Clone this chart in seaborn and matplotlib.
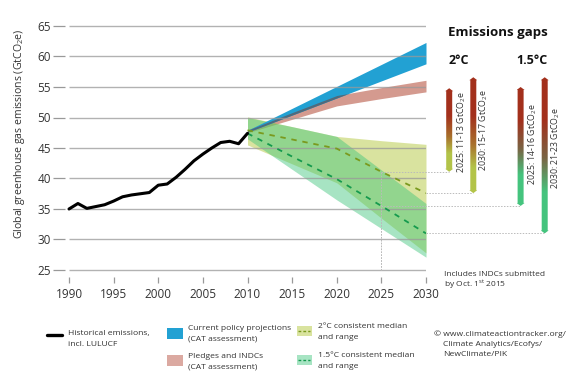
import numpy as np
import pandas as pd
import matplotlib
matplotlib.use("Agg")
import matplotlib.pyplot as plt
import seaborn as sns
from matplotlib.patches import Polygon, Rectangle
from matplotlib.lines import Line2D
from matplotlib.colors import to_rgb

# ---------------- data ----------------
hist_years = list(range(1990, 2011))
hist_values = [35.0, 35.9, 35.1, 35.4, 35.7, 36.3, 37.0, 37.3, 37.5, 37.7, 38.9,
               39.1, 40.2, 41.5, 42.9, 44.0, 45.0, 45.9, 46.1, 45.7, 47.4]

proj_years = [2010, 2015, 2020, 2025, 2030]
cpp_low = [47.6, 50.4, 53.2, 56.0, 58.8]
cpp_high = [47.9, 51.5, 55.1, 58.7, 62.3]
pledge_low = [47.5, 49.7, 51.9, 53.1, 54.2]
pledge_high = [48.0, 50.8, 53.6, 54.9, 56.1]
two_low = [45.5, 42.4, 39.3, 33.5, 27.8]
two_high = [50.1, 48.5, 46.9, 46.2, 45.6]
two_median = [47.9, 46.4, 44.9, 41.1, 37.6]
one5_low = [46.5, 41.5, 36.5, 31.8, 27.1]
one5_high = [50.0, 48.5, 46.9, 41.4, 35.9]
one5_median = [47.4, 43.6, 39.9, 35.5, 31.0]

gap_years = [2025, 2030, 2025, 2030]
gap_bottom = [41.1, 37.6, 35.5, 31.0]
gap_top = [54.8, 56.6, 55.0, 56.6]
gap_xpos = [2032.6, 2035.3, 2040.6, 2043.3]
gap_labels = ["2025: 11-13 GtCO$_{\\mathrm{2}}$e", "2030: 15-17 GtCO$_{\\mathrm{2}}$e",
              "2025: 14-16 GtCO$_{\\mathrm{2}}$e", "2030: 21-23 GtCO$_{\\mathrm{2}}$e"]
gap_group = ["2", "2", "1.5", "1.5"]

x_ticks = [1990, 1995, 2000, 2005, 2010, 2015, 2020, 2025, 2030]
y_ticks = [25, 30, 35, 40, 45, 50, 55, 60, 65]

# ---------------- style ----------------
sns.set_style("white")
FONT = ["Open Sans", "DejaVu Sans"]
plt.rcParams["font.family"] = FONT
plt.rcParams["mathtext.fontset"] = "custom"
plt.rcParams["mathtext.rm"] = "Open Sans"
plt.rcParams["mathtext.it"] = "Open Sans:italic"
plt.rcParams["mathtext.bf"] = "Open Sans:bold"

BLUE = "#22a1d3"
PINK = "#d49a8f"
YEL = "#b5c940"
GRN = "#3cc47a"
TXT = "#333333"

W, H = 588, 391
fig = plt.figure(figsize=(W / 100, H / 100), dpi=100)

# axes geometry in pixels
px_per_year = 8.925
x1990 = 69.0
xl = 1989.55
xr = 2030.0
yl, yt = 23.8, 65.5
px_per_unit = 6.1
y65 = 26.0
def ypx(v):
    return y65 + (65 - v) * px_per_unit
def xpx(yr):
    return x1990 + (yr - 1990) * px_per_year

left = xpx(xl) / W
right = xpx(xr) / W
bottom = 1 - ypx(yl) / H
top = 1 - ypx(yt) / H
ax = fig.add_axes([left, bottom, right - left, top - bottom])
ax.set_xlim(xl, xr)
ax.set_ylim(yl, yt)
for s in ax.spines.values():
    s.set_visible(False)

# bands
ax.fill_between(proj_years, pledge_low, pledge_high, color=PINK, lw=0, zorder=2)
ax.fill_between(proj_years, cpp_low, cpp_high, color=BLUE, lw=0, zorder=3)
ov_low = np.array(cpp_low)
ov_high = np.minimum(np.array(pledge_high), np.array(cpp_high))
ax.fill_between(proj_years, ov_low, ov_high, where=ov_high > ov_low, interpolate=True,
                color="#4f6a7c", lw=0, zorder=3.5)
ax.fill_between(proj_years, two_low, two_high, color=YEL, alpha=0.5, lw=0, zorder=2)
ax.fill_between(proj_years, one5_low, one5_high, color=GRN, alpha=0.45, lw=0, zorder=2.5)

# gridlines on top
ax.hlines(y_ticks, 1990, 2030, color="#999999", lw=1.0, alpha=0.75, zorder=4)

# gap guide lines
for yr, b in zip(gap_years, gap_bottom):
    ax.vlines(yr, 25, b, color="#bbbbbb", lw=0.7, linestyles=(0, (1.5, 1.5)), zorder=4)

# lines
hist_df = pd.DataFrame({"year": hist_years, "value": hist_values})
sns.lineplot(data=hist_df, x="year", y="value", ax=ax, color="black", lw=2.2, zorder=6)
med_df = pd.DataFrame({"year": proj_years * 2, "value": two_median + one5_median,
                       "scen": ["2"] * 5 + ["1.5"] * 5})
sns.lineplot(data=med_df[med_df.scen == "2"], x="year", y="value", ax=ax,
             color="#7a9a1e", lw=1.3, dashes=False, zorder=5).lines[-1].set_dashes([3, 3.2])
sns.lineplot(data=med_df[med_df.scen == "1.5"], x="year", y="value", ax=ax,
             color="#159a4e", lw=1.3, zorder=5).lines[-1].set_dashes([3, 3.2])
ax.set_xlabel("")
ax.set_ylabel("")

ax.set_xticks(x_ticks)
ax.set_xticklabels([str(t) for t in x_ticks])
ax.set_yticks(y_ticks)
ax.set_yticklabels([str(t) for t in y_ticks])
ax.tick_params(axis="y", length=8.6, width=0.9, color="#999999", pad=1.5, labelsize=8.5,
               labelcolor=TXT, left=True)
ax.tick_params(axis="x", length=4.3, width=0.9, color="#999999", pad=3.5, labelsize=8.5,
               labelcolor=TXT, bottom=True)
ax.grid(False)

# ---------------- gap panel ----------------
gx0, gx1 = 2030.0, 2046.0
gax = fig.add_axes([xpx(gx0) / W, bottom, (xpx(gx1) - xpx(gx0)) / W, top - bottom])
gax.set_xlim(gx0, gx1)
gax.set_ylim(yl, yt)
gax.axis("off")
gax.patch.set_alpha(0)

for yr, b, xp in zip(gap_years, gap_bottom, gap_xpos):
    gax.hlines(b, yr, xp, color="#bbbbbb", lw=0.7, linestyles=(0, (1.5, 1.5)), clip_on=False)
ax.set_zorder(1)
gax.set_zorder(2)

def gradient_arrow(x, b, t, stops):
    bw = 3.0 / px_per_year
    hw = 4.0 / px_per_year
    hh = 3.0 / px_per_unit
    verts = [(x - bw, b + hh), (x - hw, b + hh), (x, b), (x + hw, b + hh), (x + bw, b + hh),
             (x + bw, t - hh), (x + hw, t - hh), (x, t), (x - hw, t - hh), (x - bw, t - hh)]
    poly = Polygon(verts, closed=True, facecolor="none", edgecolor="none",
                   transform=gax.transData)
    gax.add_patch(poly)
    n = 256
    pos = [p for p, _ in stops]
    cols = np.array([to_rgb(c) for _, c in stops])
    tt = np.linspace(0, 1, n)
    img = np.stack([np.interp(tt, pos, cols[:, k]) for k in range(3)], axis=-1)[:, None, :]
    im = gax.imshow(img, extent=(x - hw, x + hw, b, t), aspect="auto", origin="upper",
                    interpolation="bilinear", zorder=3)
    im.set_clip_path(poly)

stops2 = [(0, "#a3301c"), (0.33, "#a3301c"), (0.58, "#a8702c"), (0.78, "#b3c449"), (1, "#b3c449")]
stops15 = [(0, "#a3301c"), (0.28, "#a3301c"), (0.52, "#7a6444"), (0.74, "#45c47e"), (1, "#45c47e")]
for xp, b, t, g, lab in zip(gap_xpos, gap_bottom, gap_top, gap_group, gap_labels):
    gradient_arrow(xp, b, t, stops2 if g == "2" else stops15)

label_pos = [(2033.95, 47.6), (2036.45, 48.0), (2041.95, 45.7), (2044.5, 45.0)]
for (lx, ly), lab in zip(label_pos, gap_labels):
    gax.text(lx, ly, lab, rotation=90, ha="center", va="center", fontsize=6.3, color=TXT,
             clip_on=False)
gax.set_xlim(gx0, gx1)
gax.set_ylim(yl, yt)

gax.text(2038.0, 64.0, "Emissions gaps", ha="center", va="center", fontsize=9.5,
         fontweight="bold", color="#111111")
gax.text(2033.7, 59.3, "2°C", ha="center", va="center", fontsize=9, fontweight="bold",
         color="#111111")
gax.text(2041.9, 59.3, "1.5°C", ha="center", va="center", fontsize=9, fontweight="bold",
         color="#111111")

# ---------------- text around ----------------
def F(x, y):
    return (x / W, 1 - y / H)

fig.text(*F(20, 134), "Global greenhouse gas emissions (GtCO$_{\\mathrm{2}}$e)", rotation=90,
         ha="center", va="center", fontsize=7.6, color=TXT)
fig.text(*F(444, 274), "Includes INDCs submitted", ha="left", va="center", fontsize=6,
         color=TXT)
fig.text(*F(444, 284.5), "by Oct. 1$^{\\mathrm{st}}$ 2015", ha="left", va="center",
         fontsize=6, color=TXT)

# legend
def frect(x0, y0, x1, y1, **kw):
    fig.add_artist(Rectangle((x0 / W, 1 - y1 / H), (x1 - x0) / W, (y1 - y0) / H,
                             transform=fig.transFigure, **kw))

fig.add_artist(Line2D([46.7 / W, 61.7 / W], [1 - 335 / H, 1 - 335 / H], color="black", lw=2.4,
                      transform=fig.transFigure))
LFS = 6.1
fig.text(*F(68.3, 334), "Historical emissions,", fontsize=LFS, va="center", color=TXT)
fig.text(*F(68.3, 344.3), "incl. LULUCF", fontsize=LFS, va="center", color=TXT)

frect(166.7, 327.7, 182.7, 339, color=BLUE, lw=0)
fig.text(*F(187.7, 329), "Current policy projections", fontsize=LFS, va="center", color=TXT)
fig.text(*F(187.7, 339.3), "(CAT assessment)", fontsize=LFS, va="center", color=TXT)
frect(166.7, 355, 182.7, 365.7, color="#dba9a1", lw=0)
fig.text(*F(187.7, 356.7), "Pledges and INDCs", fontsize=LFS, va="center", color=TXT)
fig.text(*F(187.7, 367), "(CAT assessment)", fontsize=LFS, va="center", color=TXT)

frect(296.7, 326, 311.7, 335.7, color=YEL, alpha=0.5, lw=0)
fig.add_artist(Line2D([298 / W, 310.5 / W], [1 - 331 / H] * 2, color="#7a9a1e", lw=1.0,
                      dashes=[2, 1.5], transform=fig.transFigure))
fig.text(*F(317.7, 326.7), "2°C consistent median", fontsize=LFS, va="center", color=TXT)
fig.text(*F(317.7, 337.3), "and range", fontsize=LFS, va="center", color=TXT)
frect(296.7, 355, 311.7, 365, color=GRN, alpha=0.45, lw=0)
fig.add_artist(Line2D([298 / W, 310.5 / W], [1 - 360 / H] * 2, color="#159a4e", lw=1.0,
                      dashes=[2, 1.5], transform=fig.transFigure))
fig.text(*F(317.7, 355.5), "1.5°C consistent median", fontsize=LFS, va="center", color=TXT)
fig.text(*F(317.7, 366), "and range", fontsize=LFS, va="center", color=TXT)

fig.text(*F(434, 334), "© www.climateactiontracker.org/", fontsize=LFS, va="center", color=TXT)
fig.text(*F(443, 344.5), "Climate Analytics/Ecofys/", fontsize=LFS, va="center", color=TXT)
fig.text(*F(443, 355), "NewClimate/PIK", fontsize=LFS, va="center", color=TXT)

fig.savefig("out.png", dpi=100)
